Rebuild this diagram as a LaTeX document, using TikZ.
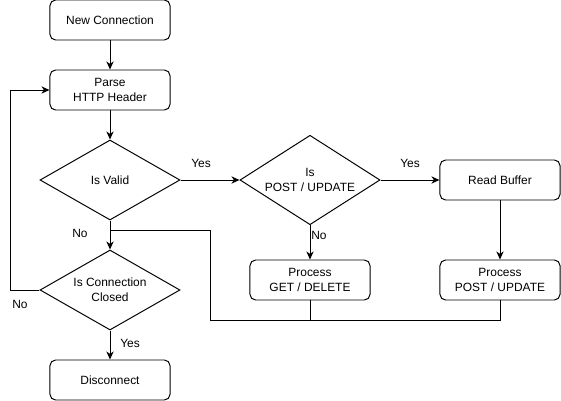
\documentclass[tikz,border=0pt]{standalone}
\usepackage{fontspec}
\setmainfont{Liberation Sans}
\usetikzlibrary{shapes.geometric}
\usetikzlibrary{arrows.meta}

\begin{document}
\begin{tikzpicture}[x=0.025cm,y=-0.025cm,
    font=\fontsize{8.5}{10.7}\selectfont,
    box/.style={draw,rounded corners=4pt,minimum width=3cm,minimum height=1cm,align=center,line width=0.7pt},
    decision/.style={draw,diamond,minimum width=3.5cm,minimum height=2cm,inner xsep=-3mm,inner ysep=0pt,align=center,line width=0.7pt},
    lbl/.style={inner sep=1pt},
    flow/.style={line width=0.7pt,-{Stealth[length=2mm,width=1.8mm,inset=0.6mm]}},
    link/.style={line width=0.7pt}]
    \useasboundingbox (0,0) rectangle (561,401);

    % steps
    \node[box] (newconn) at (110,20) {New Connection};
    \node[box] (parse) at (110,90) {Parse\\HTTP Header};
    \node[decision] (valid) at (110,180) {Is Valid};
    \node[decision] (ispost) at (310,180) {Is\\POST / UPDATE};
    \node[box] (readbuf) at (500,180) {Read Buffer};
    \node[box] (procget) at (310,280) {Process\\GET / DELETE};
    \node[box] (procpost) at (500,280) {Process\\POST / UPDATE};
    \node[decision] (closed) at (110,290) {Is Connection\\Closed};
    \node[box] (disc) at (110,380) {Disconnect};

    % bends
    \coordinate (loopleft) at (10,290);
    \coordinate (joinL) at (110,230);
    \coordinate (bendT) at (210,230);
    \coordinate (bendB) at (210,320);

    % connectors
    \draw[flow] (newconn.south) -- (parse.north);
    \draw[flow] (parse.south) -- (valid.north);
    \draw[flow] (valid.east) -- (ispost.west);
    \draw[flow] (ispost.east) -- (readbuf.west);
    \draw[flow] (ispost.south) -- (procget.north);
    \draw[flow] (readbuf.south) -- (procpost.north);
    \draw[flow] (valid.south) -- (closed.north);
    \draw[flow] (closed.south) -- (disc.north);
    \draw[flow] (closed.west) -- (loopleft) |- (parse.west);
    \draw[link] (procpost.south) |- (bendB) -- (bendT) -- (joinL);
    \draw[link] (procget.south) -- (procget.south |- bendB);

    % labels
    \node[lbl] (yesvalid) at (201,163) {Yes};
    \node[lbl] (yespost) at (410,163) {Yes};
    \node[lbl] (nopost) at (319,235) {No};
    \node[lbl] (novalid) at (80,233) {No};
    \node[lbl] (noclosed) at (20,304) {No};
    \node[lbl] (yesclosed) at (130,343) {Yes};
\end{tikzpicture}
\end{document}
